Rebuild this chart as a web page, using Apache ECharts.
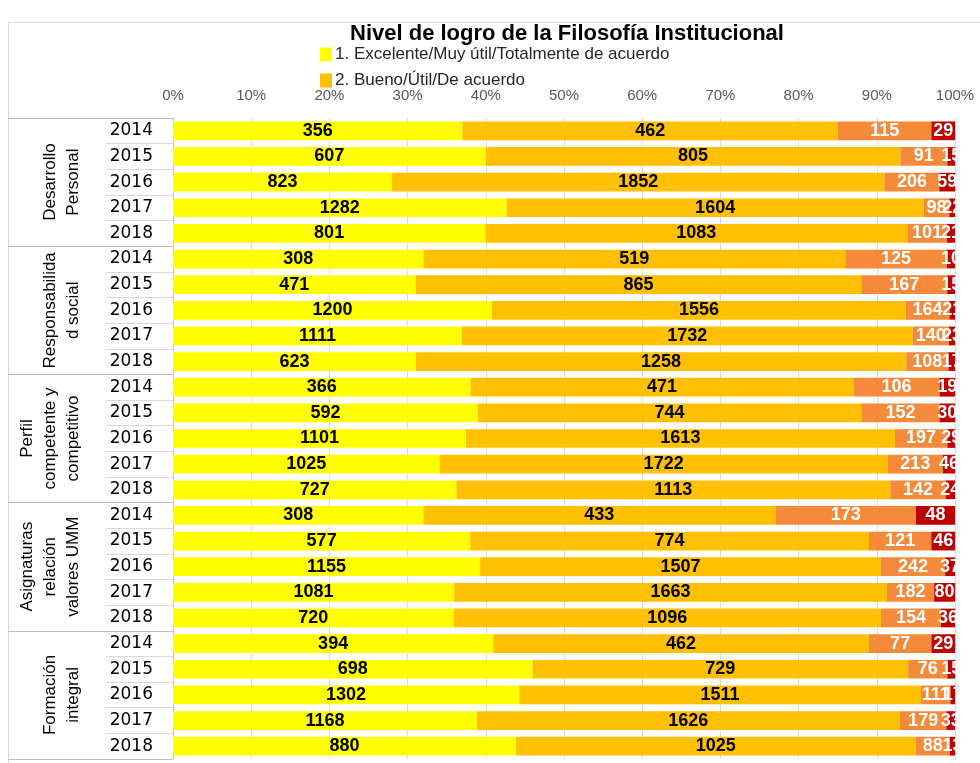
<!DOCTYPE html>
<html>
<head>
<meta charset="utf-8">
<script src="https://cdn.jsdelivr.net/npm/echarts@6/dist/echarts.min.js"></script>
</head>
<body style="margin:0; background:#fff">
<div id="container" style="width:980px; height:763px"></div>
<script type="text/javascript">
// categories
var years = ['2014', '2015', '2016', '2017', '2018'];
var groups = ['Desarrollo\nPersonal', 'Responsabilida\nd social', 'Perfil\ncompetente y\ncompetitivo',
              'Asignaturas\nrelación\nvalores UMM', 'Formación\nintegral'];
var seriesNames = ['1. Excelente/Muy útil/Totalmente de acuerdo', '2. Bueno/Útil/De acuerdo',
                   '3. Regular/Poco útil/En desacuerdo', '4. Malo/Inútil/Totalmente en desacuerdo'];
var xTicks = [0, 10, 20, 30, 40, 50, 60, 70, 80, 90, 100];

// values, 5 years per group, groups in order
var excelente = [356, 607, 823, 1282, 801,  308, 471, 1200, 1111, 623,  366, 592, 1101, 1025, 727,
                 308, 577, 1155, 1081, 720,  394, 698, 1302, 1168, 880];
var bueno     = [462, 805, 1852, 1604, 1083,  519, 865, 1556, 1732, 1258,  471, 744, 1613, 1722, 1113,
                 433, 774, 1507, 1663, 1096,  462, 729, 1511, 1626, 1025];
var regular   = [115, 91, 206, 98, 101,  125, 167, 164, 140, 108,  106, 152, 197, 213, 142,
                 173, 121, 242, 182, 154,  77, 76, 111, 179, 88];
var malo      = [29, 15, 59, 22, 21,  10, 15, 21, 23, 17,  19, 30, 29, 46, 24,
                 48, 46, 37, 80, 36,  29, 15, 17, 33, 13];

var colors = ['#FFFF00', '#FFC000', '#F58A3A', '#C00000'];
var labelColors = ['#000', '#000', '#fff', '#fff'];

var rows = [];
groups.forEach(function (g, gi) {
    years.forEach(function (y) { rows.push(gi + '-' + y); });
});
var raw = [excelente, bueno, regular, malo];
var totals = rows.map(function (r, i) {
    return excelente[i] + bueno[i] + regular[i] + malo[i];
});

var dom = document.getElementById('container');
var myChart = echarts.init(dom);
var font = 'Liberation Sans, Arial, sans-serif';

var series = raw.map(function (arr, k) {
    return {
        name: seriesNames[k],
        type: 'bar',
        stack: 'total',
        yAxisIndex: 0,
        barCategoryGap: '27%',
        itemStyle: { color: colors[k] },
        label: {
            show: true,
            position: 'inside',
            color: labelColors[k],
            fontWeight: 'bold',
            fontSize: 18,
            fontFamily: font,
            formatter: function (p) { return arr[p.dataIndex]; }
        },
        data: arr.map(function (v, i) { return v / totals[i] * 100; })
    };
});

var option = {
    animation: false,
    title: {
        text: 'Nivel de logro de la Filosofía Institucional',
        left: 345,
        top: 18,
        textStyle: { fontSize: 22, fontWeight: 'bold', color: '#000', fontFamily: 'Liberation Sans Narrow, Arial, sans-serif' }
    },
    legend: {
        orient: 'vertical',
        left: 315,
        top: 41,
        data: seriesNames.slice(0, 2),
        icon: 'rect',
        itemWidth: 12,
        itemHeight: 14,
        itemGap: 9,
        textStyle: { fontSize: 17, color: '#262626', fontFamily: font, padding: [0, 0, 0, -2] }
    },
    grid: { left: 173, right: 25, top: 118, bottom: 4 },
    xAxis: {
        type: 'value',
        position: 'top',
        min: xTicks[0],
        max: xTicks[xTicks.length - 1],
        interval: 10,
        axisLine: { show: false },
        axisTick: { show: false },
        axisLabel: { formatter: '{value}%', color: '#595959', fontSize: 15, fontFamily: font, margin: 15 },
        splitLine: { show: true, lineStyle: { color: '#D9D9D9' } }
    },
    yAxis: [{
        type: 'category',
        inverse: true,
        data: rows,
        axisLine: { show: true, lineStyle: { color: '#BFBFBF' } },
        axisTick: { show: true, length: 67, interval: 0, lineStyle: { color: '#D9D9D9' } },
        axisLabel: {
            interval: 0, margin: 20, color: '#000', fontSize: 17, fontFamily: 'DejaVu Sans, sans-serif',
            formatter: function (v) { return v.split('-')[1]; }
        }
    }, {
        type: 'category',
        inverse: true,
        position: 'left',
        data: groups,
        axisLine: { show: false },
        axisTick: { show: true, length: 165, interval: 0, lineStyle: { color: '#BFBFBF' } },
        axisLabel: { interval: 0, rotate: 90, margin: 88, lineHeight: 23, color: '#000', fontSize: 17, fontFamily: font }
    }],
    graphic: [{
        type: 'rect',
        shape: { x: 8.5, y: 22.5, width: 1000, height: 800 },
        style: { fill: null, stroke: '#D9D9D9', lineWidth: 1 },
        z: -1
    }, {
        // Excel clips labels at the plot edge
        type: 'rect',
        shape: { x: 957, y: 119, width: 30, height: 650 },
        style: { fill: '#fff' },
        z: 100
    }],
    series: series
};

if (option && typeof option === 'object') {
    myChart.setOption(option, true);
}
</script>
</body>
</html>
